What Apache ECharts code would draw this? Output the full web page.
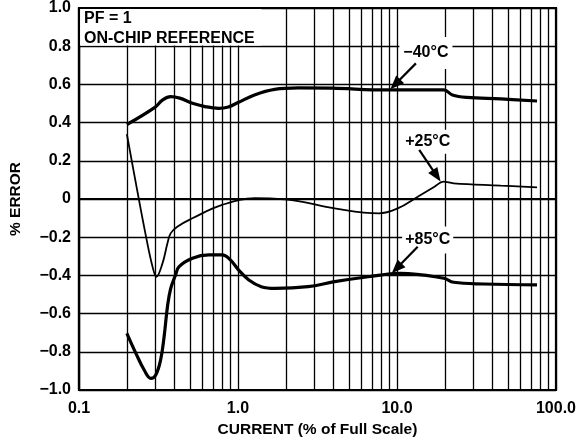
<!DOCTYPE html>
<html><head><meta charset="utf-8">
<script src="https://cdn.jsdelivr.net/npm/echarts@6/dist/echarts.min.js"></script>
<style>html,body{margin:0;padding:0;background:#fff}#c{width:579px;height:444px}</style>
</head><body><div id="c"></div>
<script>
// ---- data ----
const xTickLabels = ['0.1', '1.0', '10.0', '100.0'];
const yTickLabels = ['\u22121.0','\u22120.8','\u22120.6','\u22120.4','\u22120.2','0','0.2','0.4','0.6','0.8','1.0'];
const minorGrid = [0.2,0.3,0.4,0.5,0.6,0.7,0.8,0.9, 2,3,4,5,6,7,8,9, 20,30,40,50,60,70,80,90];

const m40X = [0.2, 0.3, 0.335, 0.377, 0.43, 0.517, 0.62, 0.757, 0.87, 1.0, 1.27, 1.7, 2.4, 3.9, 8.7, 19.7, 22.3, 27.5, 45, 76];
const m40Y = [0.39, 0.48, 0.518, 0.536, 0.528, 0.501, 0.484, 0.475, 0.482, 0.505, 0.545, 0.574, 0.582, 0.58, 0.571, 0.571, 0.545, 0.532, 0.524, 0.513];

const p25X = [0.2, 0.228, 0.264, 0.29, 0.307, 0.335, 0.36, 0.377, 0.415, 0.517, 0.794, 1.28, 1.98, 2.5, 4.05, 7.7, 10.1, 13.5, 17.2, 19.6, 22.7, 45, 76];
const p25Y = [0.34, 0.082, -0.197, -0.354, -0.407, -0.337, -0.232, -0.18, -0.145, -0.101, -0.031, 0.004, -0.002, -0.014, -0.049, -0.075, -0.049, 0.012, 0.064, 0.091, 0.082, 0.07, 0.061];

const p85X = [0.2, 0.228, 0.257, 0.283, 0.304, 0.326, 0.343, 0.36, 0.377, 0.405, 0.426, 0.517, 0.656, 0.794, 0.895, 1.01, 1.17, 1.4, 1.71, 2.76, 4.05, 6.6, 10.5, 19.7, 22.7, 35, 76];
const p85Y = [-0.703, -0.808, -0.895, -0.939, -0.921, -0.843, -0.721, -0.564, -0.47, -0.398, -0.354, -0.31, -0.293, -0.293, -0.319, -0.372, -0.424, -0.459, -0.468, -0.459, -0.433, -0.407, -0.389, -0.415, -0.436, -0.445, -0.45];

// annotations (data coordinates)
const labelTexts = ['\u221240\u00b0C', '+25\u00b0C', '+85\u00b0C'];
const labelPos = [[15.2, 0.765], [15.6, 0.30], [15.6, -0.215]];
const labelPad = [[4,4,12,4], [7,4,1,4], [10,3,1,3]];
const arrowFrom = [[13.15, 0.71], [13.8, 0.257], [13.5, -0.25]];
const arrowTo = [[9.08, 0.574], [18.8, 0.091], [9.27, -0.389]];

const FONT = 'Liberation Sans';
const FS = 16;
const FSN = 15.5;
const zip = (xs, ys) => xs.map((x, i) => [x, ys[i]]);

const chart = echarts.init(document.getElementById('c'), null, {renderer: 'canvas'});
const gridColor = '#000';
chart.setOption({
  animation: false,
  backgroundColor: '#fff',
  grid: {left: 76, right: 23, top: 8, bottom: 54, show: true, borderColor: '#000', borderWidth: 2.2, backgroundColor: 'transparent'},
  xAxis: {
    type: 'log', logBase: 10, min: 0.1, max: 100,
    name: 'CURRENT (% of Full Scale)', nameLocation: 'middle', nameGap: 31,
    nameTextStyle: {fontFamily: FONT, fontWeight: 'bold', fontSize: FSN, color: '#000'},
    axisLine: {show: true, lineStyle: {color: '#000', width: 2.2}},
    axisTick: {show: false},
    axisLabel: {margin: 10.5, fontFamily: FONT, fontWeight: 'bold', fontSize: FS, color: '#000',
      formatter: v => xTickLabels[Math.round(Math.log10(v)) + 1]},
    splitLine: {show: true, lineStyle: {color: gridColor, width: 1.3}}
  },
  yAxis: {
    type: 'value', min: -1, max: 1, interval: 0.2,
    name: '% ERROR', nameLocation: 'middle', nameGap: 55, nameRotate: 90,
    nameTextStyle: {fontFamily: FONT, fontWeight: 'bold', fontSize: FSN, color: '#000'},
    axisLine: {show: true, lineStyle: {color: '#000', width: 2.2}},
    axisTick: {show: false},
    axisLabel: {margin: 8, fontFamily: FONT, fontWeight: 'bold', fontSize: FS, color: '#000',
      formatter: v => yTickLabels[Math.round((v + 1) / 0.2)]},
    splitLine: {show: true, lineStyle: {color: gridColor, width: 1.3}}
  },
  series: [
    {type: 'line', z: 1, data: [], silent: true,
     markLine: {silent: true, z: 1, symbol: 'none', animation: false, label: {show: false},
       lineStyle: {color: gridColor, width: 1.3, type: 'solid'},
       data: minorGrid.map(v => ({xAxis: v}))}},
    {type: 'line', z: 3, name: '-40', data: zip(m40X, m40Y), showSymbol: false, smooth: 0.4,
     lineStyle: {color: '#000', width: 3.2}},
    {type: 'line', z: 3, name: '+25', data: zip(p25X, p25Y), showSymbol: false, smooth: 0.4,
     lineStyle: {color: '#000', width: 1.8}},
    {type: 'line', z: 3, name: '+85', data: zip(p85X, p85Y), showSymbol: false, smooth: 0.4,
     lineStyle: {color: '#000', width: 3.2}}
  ]
});

// annotations
const px = p => chart.convertToPixel({gridIndex: 0}, p);
const g = [];
const tl = px([0.1, 1.0]);
const yb = px([0.1, 0.8]);
g.push({type: 'rect', z: 100, shape: {x: tl[0] + 1.1, y: tl[1] + 1.1, width: 181, height: yb[1] - tl[1] - 1.9}, style: {fill: '#fff'}});
g.push({type: 'text', z: 101, x: tl[0] + 5, y: tl[1] + 0.3,
  style: {text: 'PF = 1\nON-CHIP REFERENCE', font: 'bold ' + FS + 'px "' + FONT + '"', lineHeight: 20, fill: '#000', verticalAlign: 'top', align: 'left'}});
labelTexts.forEach((t, i) => {
  const c = px(labelPos[i]);
  g.push({type: 'text', z: 101, x: c[0], y: c[1],
    style: {text: t, font: 'bold ' + FS + 'px "' + FONT + '"', fill: '#000', align: 'center', verticalAlign: 'middle',
      backgroundColor: '#fff', padding: labelPad[i]}});
  const a = px(arrowFrom[i]), b = px(arrowTo[i]);
  const dx = b[0] - a[0], dy = b[1] - a[1], L = Math.hypot(dx, dy);
  const ux = dx / L, uy = dy / L, hl = 14, hw = 5.5;
  const bx = b[0] - ux * hl, by = b[1] - uy * hl;
  g.push({type: 'line', z: 102, shape: {x1: a[0], y1: a[1], x2: bx + ux * 2, y2: by + uy * 2}, style: {stroke: '#000', lineWidth: 2.2}});
  g.push({type: 'polygon', z: 102, shape: {points: [[b[0], b[1]], [bx - uy * hw, by + ux * hw], [bx + uy * hw, by - ux * hw]]}, style: {fill: '#000'}});
});
chart.setOption({graphic: g});
</script>
</body></html>
